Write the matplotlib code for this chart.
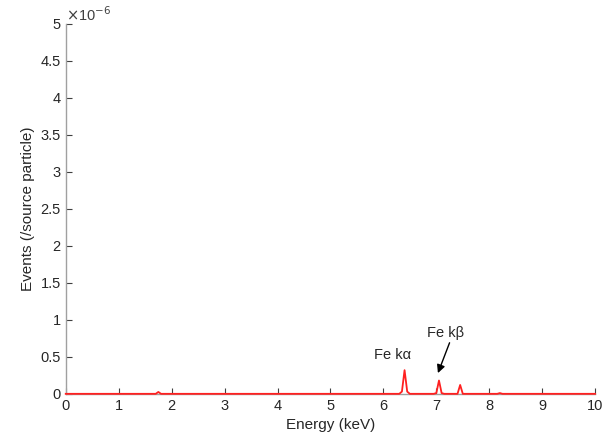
import numpy as np
import matplotlib.pyplot as plt

plt.rcParams['font.family'] = ['Liberation Sans', 'DejaVu Sans']

# spectrum, binned in 0.05 keV steps; values in units of 1e-6 events per source particle
bin_width = 0.05
peak_energy = [1.75, 6.40, 7.05, 7.45, 8.20]
peak_height = [0.025, 0.32, 0.18, 0.12, 0.01]
peak_shoulder = [0.0, 0.03, 0.01, 0.0, 0.0]

energy = np.round(np.arange(0, 10 + bin_width / 2, bin_width), 3)
events = np.zeros(len(energy))
for e, h, s in zip(peak_energy, peak_height, peak_shoulder):
    i = int(round(e / bin_width))
    events[i] = h
    events[i - 1] = max(events[i - 1], s)
    events[i + 1] = max(events[i + 1], s)

y_ticks = [0, 0.5, 1, 1.5, 2, 2.5, 3, 3.5, 4, 4.5, 5]
x_ticks = list(range(0, 11))

fig = plt.figure(figsize=(6.03, 4.42), dpi=100)
ax = fig.add_axes([0.109, 0.109, 0.878, 0.837])

ax.plot(energy, events, color='#ff2020', lw=1.3, zorder=5, clip_on=False)

ax.set_xlim(0, 10)
ax.set_ylim(0, 5)
ax.set_xticks(x_ticks)
ax.set_yticks(y_ticks)
ax.set_yticklabels(['%g' % v for v in y_ticks])

for side in ['top', 'right']:
    ax.spines[side].set_visible(False)
for side in ['left', 'bottom']:
    ax.spines[side].set_color('#a0a0a0')
    ax.spines[side].set_linewidth(1.0)
ax.tick_params(direction='in', length=4, color='#404040', labelcolor='#262626', labelsize=10.5)

ax.set_xlabel('Energy (keV)', fontsize=11, color='#262626')
ax.set_ylabel('Events (/source particle)', fontsize=11, color='#262626')

ax.text(0.0, 1.0, r'$\times$10$^{-6}$', transform=ax.transAxes, fontsize=10.5,
        color='#404040', ha='left', va='bottom')

ax.text(6.18, 0.53, 'Fe k\u03b1', fontsize=10.5, ha='center', va='center', color='#262626')
ax.text(7.17, 0.82, 'Fe k\u03b2', fontsize=10.5, ha='center', va='center', color='#262626')
ax.annotate('', xy=(7.03, 0.28), xytext=(7.25, 0.69),
            arrowprops=dict(arrowstyle='-|>', color='black', lw=1.0, mutation_scale=12,
                            shrinkA=0, shrinkB=0))

fig.savefig('out.png', dpi=100)
